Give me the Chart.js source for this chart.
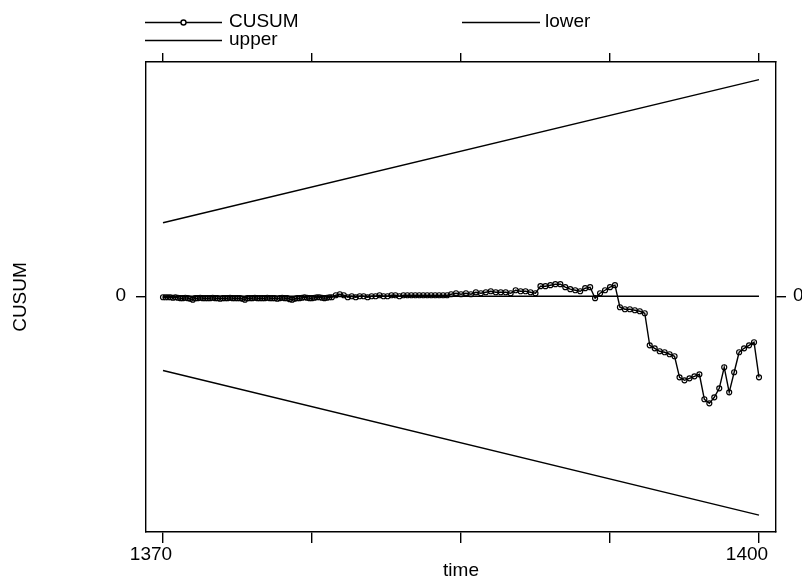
<!DOCTYPE html>
<html>
<head>
<meta charset="utf-8">
<script src="https://cdn.jsdelivr.net/npm/chart.js@4/dist/chart.umd.min.js"></script>
<style>
  html, body { margin: 0; padding: 0; background: #ffffff; }
  #wrap { width: 802px; height: 581px; }
</style>
</head>
<body>
<div id="wrap"><canvas id="c" width="802" height="581"></canvas></div>
<script>
// ---------------- data ----------------
const cusumTime = [
  // dense early observations
  1370, 1370.125, 1370.25, 1370.375, 1370.5, 1370.625, 1370.75, 1370.875,
  1371, 1371.125, 1371.25, 1371.375, 1371.5, 1371.625, 1371.75, 1371.875,
  1372, 1372.125, 1372.25, 1372.375, 1372.5, 1372.625, 1372.75, 1372.875,
  1373, 1373.125, 1373.25, 1373.375, 1373.5, 1373.625, 1373.75, 1373.875,
  1374, 1374.125, 1374.25, 1374.375, 1374.5, 1374.625, 1374.75, 1374.875,
  1375, 1375.125, 1375.25, 1375.375, 1375.5, 1375.625, 1375.75, 1375.875,
  1376, 1376.125, 1376.25, 1376.375, 1376.5, 1376.625, 1376.75, 1376.875,
  1377, 1377.125, 1377.25, 1377.375, 1377.5, 1377.625, 1377.75, 1377.875,
  1378, 1378.125, 1378.25, 1378.375,
  // middle
  1378.5, 1378.7, 1378.9, 1379.1, 1379.3, 1379.5, 1379.7, 1379.9, 1380.1, 1380.3,
  1380.5, 1380.7, 1380.9, 1381.1, 1381.3, 1381.5, 1381.7, 1381.9, 1382.1, 1382.3,
  1382.5, 1382.7, 1382.9, 1383.1, 1383.3, 1383.5, 1383.7, 1383.9, 1384.1, 1384.3,
  1384.5,
  // later, quarterly
  1384.75, 1385, 1385.25, 1385.5, 1385.75, 1386, 1386.25, 1386.5, 1386.75, 1387,
  1387.25, 1387.5, 1387.75, 1388, 1388.25, 1388.5, 1388.75, 1389, 1389.25, 1389.5,
  1389.75, 1390, 1390.25, 1390.5, 1390.75, 1391, 1391.25, 1391.5, 1391.75, 1392,
  1392.25, 1392.5, 1392.75, 1393, 1393.25, 1393.5, 1393.75, 1394, 1394.25, 1394.5,
  1394.75, 1395, 1395.25, 1395.5, 1395.75, 1396, 1396.25, 1396.5, 1396.75, 1397,
  1397.25, 1397.5, 1397.75, 1398, 1398.25, 1398.5, 1398.75, 1399, 1399.25, 1399.5,
  1399.75, 1400
];
const cusumValues = [
  -0.013, -0.013, -0.013, -0.013, -0.020, -0.013, -0.020, -0.026, -0.026, -0.020,
  -0.026, -0.033, -0.045, -0.026, -0.026, -0.020, -0.026, -0.026, -0.026, -0.026,
  -0.020, -0.026, -0.026, -0.033, -0.026, -0.026, -0.026, -0.020, -0.026, -0.026,
  -0.026, -0.026, -0.033, -0.045, -0.026, -0.026, -0.026, -0.020, -0.026, -0.026,
  -0.026, -0.026, -0.020, -0.026, -0.026, -0.026, -0.033, -0.026, -0.020, -0.026,
  -0.026, -0.039, -0.045, -0.033, -0.026, -0.026, -0.020, -0.013, -0.020, -0.026,
  -0.026, -0.020, -0.013, -0.013, -0.020, -0.026, -0.020, -0.013,
  -0.013, 0.013, 0.026, 0.013, -0.013, 0, -0.013, 0, 0, -0.013,
  0, 0, 0.013, 0, 0, 0.013, 0.013, 0, 0.013, 0.013,
  0.013, 0.013, 0.013, 0.013, 0.013, 0.013, 0.013, 0.013, 0.013, 0.013,
  0.026,
  0.039, 0.026, 0.039, 0.026, 0.052, 0.039, 0.052, 0.065, 0.052, 0.052,
  0.052, 0.039, 0.078, 0.065, 0.065, 0.052, 0.039, 0.131, 0.131, 0.144,
  0.157, 0.157, 0.118, 0.092, 0.078, 0.065, 0.105, 0.118, -0.026, 0.039,
  0.078, 0.118, 0.144, -0.144, -0.170, -0.170, -0.183, -0.196, -0.222, -0.641,
  -0.680, -0.719, -0.732, -0.758, -0.784, -1.059, -1.098, -1.072, -1.046, -1.020,
  -1.346, -1.399, -1.320, -1.203, -0.928, -1.255, -0.993, -0.732, -0.680, -0.641,
  -0.601, -1.059
];
const boundTime = [1370, 1400];
const upperBound = [0.96, 2.83];
const lowerBound = [-0.97, -2.86];
const zeroLine = [0, 0];

const seriesNames = ['CUSUM', 'lower', 'upper'];
const xTickValues = [1370, 1377.5, 1385, 1392.5, 1400];
const xTickLabels = ['1370', '', '', '', '1400'];
const yTickValues = [0];
const yTickLabels = ['0'];
const xTitle = 'time';
const yTitle = 'CUSUM';

// ---------------- chart ----------------
const FONT = '"Liberation Sans", Arial, sans-serif';
Chart.defaults.font.family = FONT;
Chart.defaults.font.size = 19;
Chart.defaults.color = '#000';

const LW = 1.4;
const toXY = (xs, ys) => xs.map((x, i) => ({ x: x, y: ys[i] }));
const labelFor = (vals, labels) => (v) => {
  const k = vals.indexOf(v);
  return k >= 0 ? labels[k] : '';
};
const setTicks = (vals) => (scale) => { scale.ticks = vals.map(v => ({ value: v })); };

const legendPlugin = {
  id: 'latticeKey',
  afterDraw(chart) {
    const ctx = chart.ctx;
    const items = [
      { name: seriesNames[0], x0: 145, x1: 222, y: 22.5, tx: 229, marker: true },
      { name: seriesNames[1], x0: 462, x1: 540, y: 22.5, tx: 545, marker: false },
      { name: seriesNames[2], x0: 145, x1: 222, y: 40.5, tx: 229, marker: false }
    ];
    ctx.save();
    ctx.strokeStyle = '#000';
    ctx.fillStyle = '#000';
    ctx.lineWidth = LW;
    ctx.font = '19px ' + FONT;
    ctx.textBaseline = 'alphabetic';
    ctx.textAlign = 'left';
    items.forEach(it => {
      ctx.beginPath();
      ctx.moveTo(it.x0, it.y);
      ctx.lineTo(it.x1, it.y);
      ctx.stroke();
      if (it.marker) {
        ctx.beginPath();
        ctx.arc((it.x0 + it.x1) / 2, it.y, 2.5, 0, Math.PI * 2);
        ctx.fillStyle = '#fff';
        ctx.fill();
        ctx.stroke();
        ctx.fillStyle = '#000';
      }
      ctx.fillText(it.name, it.tx, it.y + 4.5);
    });
    ctx.restore();
  }
};

const borderCfg = { display: true, color: '#000', width: LW };
const gridCfg = (len) => ({ drawOnChartArea: false, color: '#000', lineWidth: LW, tickLength: len });

new Chart(document.getElementById('c'), {
  type: 'line',
  data: {
    datasets: [
      {
        label: seriesNames[0],
        data: toXY(cusumTime, cusumValues),
        borderColor: '#000', borderWidth: LW,
        pointRadius: 2.5, pointBorderWidth: 1.2,
        pointBackgroundColor: 'rgba(255,255,255,0)', pointBorderColor: '#000',
        pointStyle: 'circle', tension: 0
      },
      {
        label: seriesNames[1],
        data: toXY(boundTime, lowerBound),
        borderColor: '#000', borderWidth: LW, pointRadius: 0
      },
      {
        label: seriesNames[2],
        data: toXY(boundTime, upperBound),
        borderColor: '#000', borderWidth: LW, pointRadius: 0
      },
      {
        label: 'zero',
        data: toXY(boundTime, zeroLine),
        borderColor: '#000', borderWidth: LW, pointRadius: 0
      }
    ]
  },
  options: {
    responsive: false,
    animation: false,
    devicePixelRatio: 1,
    layout: { padding: 0 },
    plugins: { legend: { display: false }, tooltip: { enabled: false } },
    scales: {
      x: {
        type: 'linear', position: 'bottom',
        min: 1369.144, max: 1400.856,
        border: borderCfg, grid: gridCfg(11),
        afterBuildTicks: setTicks(xTickValues),
        afterFit: (s) => { s.height = 49; },
        ticks: {
          autoSkip: false, maxRotation: 0, padding: 0, labelOffset: -12,
          font: { size: 19 }, color: '#000',
          callback: labelFor(xTickValues, xTickLabels)
        },
        title: { display: true, text: xTitle, font: { size: 19, lineHeight: 1 }, padding: { top: 0, bottom: 1 }, color: '#000' }
      },
      x2: {
        type: 'linear', position: 'top',
        min: 1369.144, max: 1400.856,
        border: borderCfg, grid: gridCfg(9),
        afterBuildTicks: setTicks(xTickValues),
        afterFit: (s) => { s.height = 62; },
        ticks: { autoSkip: false, maxRotation: 0, padding: 0, callback: () => '' }
      },
      y: {
        type: 'linear', position: 'left',
        min: -3.08, max: 3.06,
        border: borderCfg, grid: gridCfg(10),
        afterBuildTicks: setTicks(yTickValues),
        afterFit: (s) => { s.width = 146; },
        ticks: { padding: 10, font: { size: 19 }, color: '#000', callback: labelFor(yTickValues, yTickLabels) },
        title: { display: true, text: yTitle, font: { size: 19, lineHeight: 1 }, padding: { top: 11 }, color: '#000' }
      },
      y2: {
        type: 'linear', position: 'right',
        min: -3.08, max: 3.06,
        border: borderCfg, grid: gridCfg(10),
        afterBuildTicks: setTicks(yTickValues),
        afterFit: (s) => { s.width = 26; },
        ticks: { padding: 7, font: { size: 19 }, color: '#000', callback: labelFor(yTickValues, yTickLabels) }
      }
    }
  },
  plugins: [legendPlugin]
});
</script>
</body>
</html>
